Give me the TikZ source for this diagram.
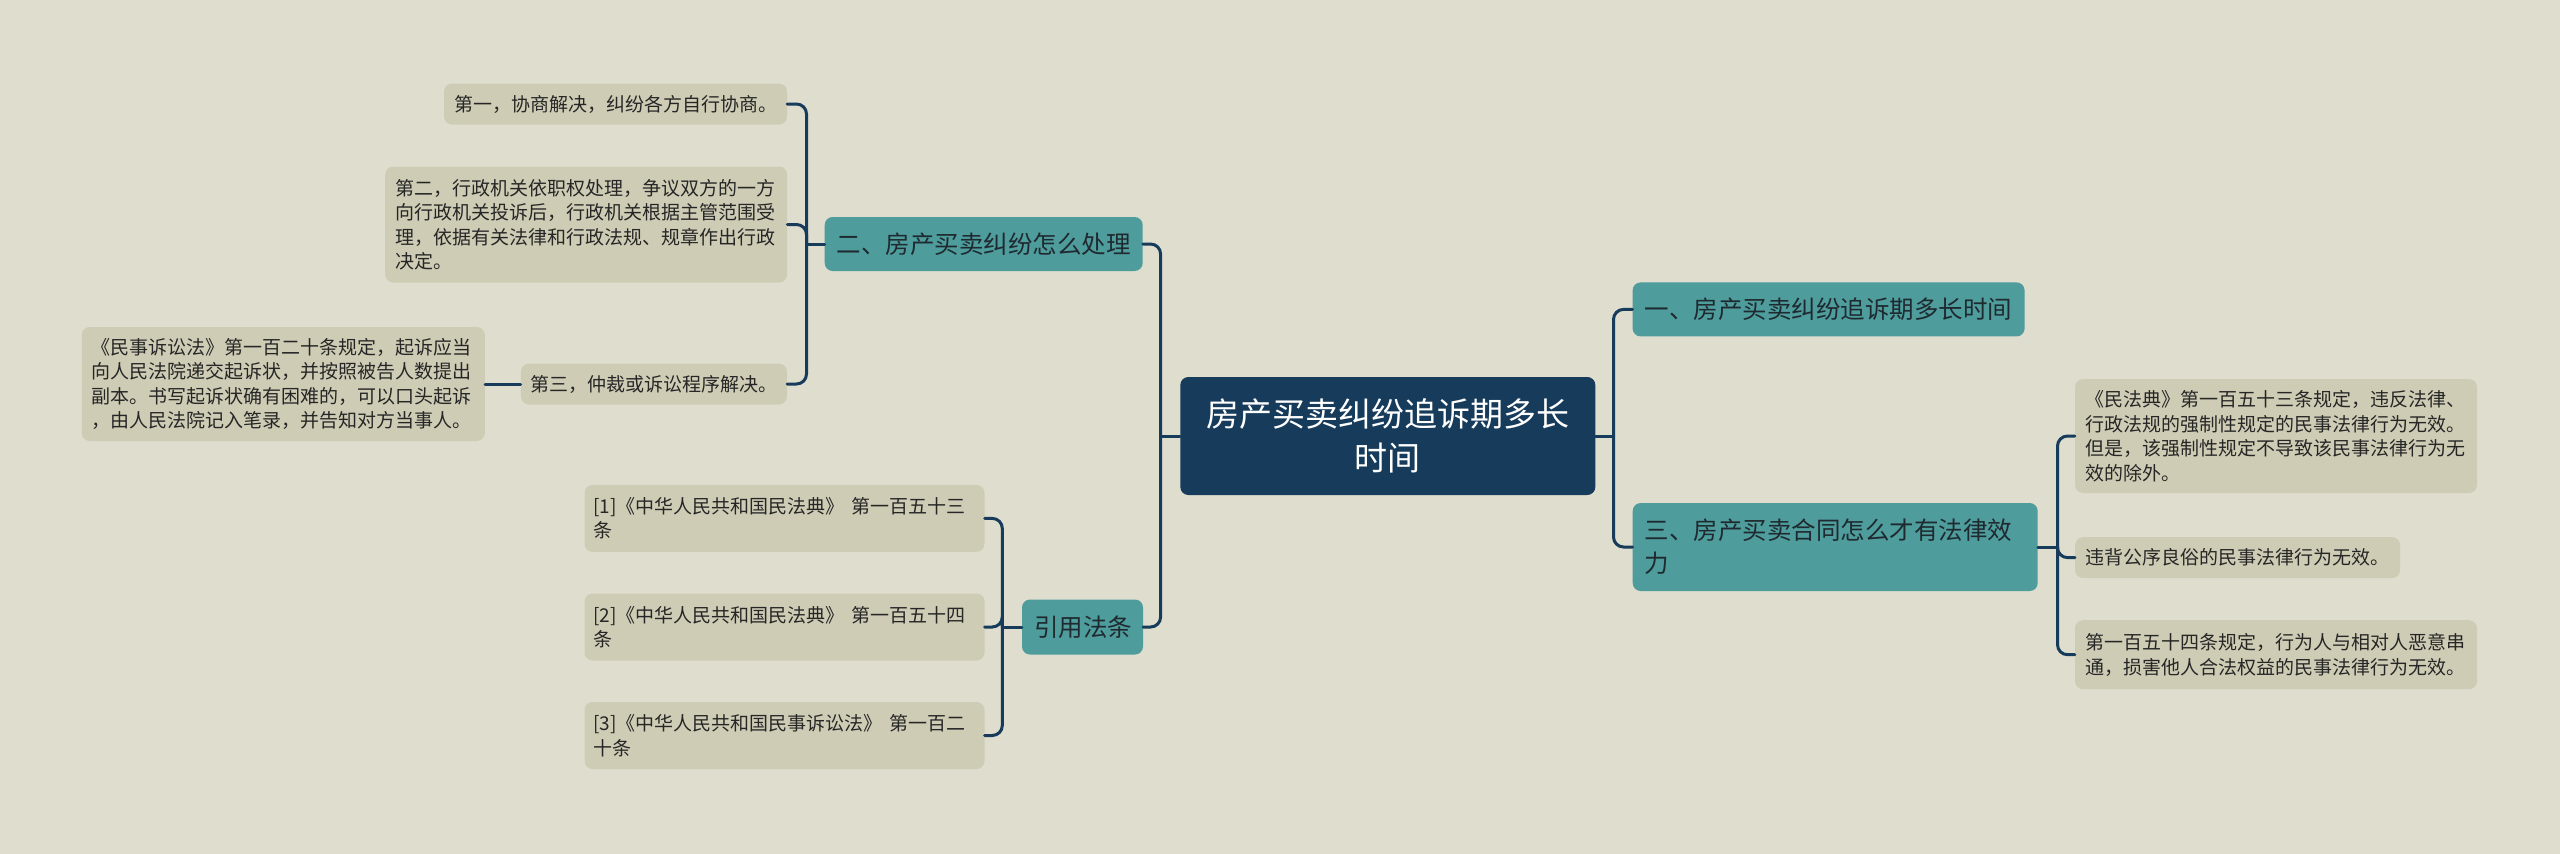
\documentclass[tikz,border=0pt]{standalone}
\usepackage{fontspec}
\newfontfamily\cjk{Noto Sans CJK SC}
\definecolor{bgc}{HTML}{DFDDCE}
\definecolor{navy}{HTML}{163B5B}
\definecolor{teal}{HTML}{4E9C9C}
\definecolor{leafc}{HTML}{CFCCB5}
\definecolor{leaftext}{HTML}{262626}
\definecolor{tealtext}{HTML}{1F2A30}
\begin{document}
\begin{tikzpicture}[x=1pt,y=-1pt,
  leaf/.style={fill=leafc, rounded corners=8pt, inner xsep=10pt, inner ysep=0pt,
    font=\cjk\fontsize{19}{24.5}\selectfont, text=leaftext, align=left},
  lvl/.style={fill=teal, rounded corners=8pt, inner xsep=12pt, inner ysep=0pt,
    font=\cjk\fontsize{24.5}{33}\selectfont, text=tealtext, align=left},
  root/.style={fill=navy, rounded corners=8pt, inner xsep=26pt, inner ysep=0pt,
    font=\cjk\fontsize{33}{44}\selectfont, text=white, align=center},
  conn/.style={draw=navy, line width=3pt, rounded corners=10pt, line cap=round}]
\fill[bgc] (0,0) rectangle (2560,854);
\useasboundingbox (0,0) rectangle (2560,854);

% root
\node[root, text width=363pt, minimum height=118pt] (c) at (1387.8,436) {房产买卖纠纷追诉期多长\\时间};

% level 1
\node[lvl, text width=294pt, minimum height=54pt] (n2) at (983.7,244) {二、房产买卖纠纷怎么处理};
\node[lvl, text width=97pt, minimum height=55pt] (ref) at (1082.5,627) {引用法条};
\node[lvl, text width=368pt, minimum height=54pt] (n1) at (1828.6,309.4) {一、房产买卖纠纷追诉期多长时间};
\node[lvl, text width=381pt, minimum height=88pt] (n3) at (1835.2,547) {三、房产买卖合同怎么才有法律效\\力};

% leaves of n2
\node[leaf, text width=323pt, minimum height=41pt] (a1) at (615.5,104) {第一，协商解决，纠纷各方自行协商。};
\node[leaf, text width=382pt, minimum height=116pt] (a2) at (586.2,224.5) {第二，行政机关依职权处理，争议双方的一方\\向行政机关投诉后，行政机关根据主管范围受\\理，依据有关法律和行政法规、规章作出行政\\决定。};
\node[leaf, text width=246pt, minimum height=41pt] (a3) at (653.9,384) {第三，仲裁或诉讼程序解决。};
\node[leaf, text width=383pt, minimum height=114pt] (a3d) at (283.3,384) {《民事诉讼法》第一百二十条规定，起诉应当\\向人民法院递交起诉状，并按照被告人数提出\\副本。书写起诉状确有困难的，可以口头起诉\\，由人民法院记入笔录，并告知对方当事人。};

% leaves of ref
\node[leaf, inner xsep=9pt, text width=382pt, minimum height=67pt] (r1f) at (784.5,518.4) {[1]《中华人民共和国民法典》~第一百五十三\\条};
\node[leaf, inner xsep=9pt, text width=382pt, minimum height=67pt] (r2f) at (784.5,627) {[2]《中华人民共和国民法典》~第一百五十四\\条};
\node[leaf, inner xsep=9pt, text width=382pt, minimum height=67pt] (r3f) at (784.5,735.5) {[3]《中华人民共和国民事诉讼法》~第一百二\\十条};

% leaves of n3
\node[leaf, text width=382pt, minimum height=114pt] (b1) at (2276,436) {《民法典》第一百五十三条规定，违反法律、\\行政法规的强制性规定的民事法律行为无效。\\但是，该强制性规定不导致该民事法律行为无\\效的除外。};
\node[leaf, text width=305pt, minimum height=41pt] (b2) at (2237.6,557.6) {违背公序良俗的民事法律行为无效。};
\node[leaf, text width=382pt, minimum height=69pt] (b3) at (2276,654.7) {第一百五十四条规定，行为人与相对人恶意串\\通，损害他人合法权益的民事法律行为无效。};

% connectors
\draw[conn] (c.west) -- ++(-19.5,0) coordinate (cL);
\draw[conn] (cL) |- (n2.east);
\draw[conn] (cL) |- (ref.east);
\draw[conn] (c.east) -- ++(18,0) coordinate (cR);
\draw[conn] (cR) |- (n1.west);
\draw[conn] (cR) |- (n3.west);

\draw[conn] (n2.west) -- ++(-18,0) coordinate (n2L);
\draw[conn] (n2L) |- (a1.east);
\draw[conn] (n2L) |- (a2.east);
\draw[conn] (n2L) |- (a3.east);
\draw[conn] (a3.west) -- (a3d.east);

\draw[conn] (ref.west) -- ++(-19.5,0) coordinate (refL);
\draw[conn] (refL) |- (r1f.east);
\draw[conn] (refL) |- (r2f.east);
\draw[conn] (refL) |- (r3f.east);

\draw[conn] (n3.east) -- ++(19.6,0) coordinate (n3R);
\draw[conn] (n3R) |- (b1.west);
\draw[conn] (n3R) |- (b2.west);
\draw[conn] (n3R) |- (b3.west);
\end{tikzpicture}
\end{document}
